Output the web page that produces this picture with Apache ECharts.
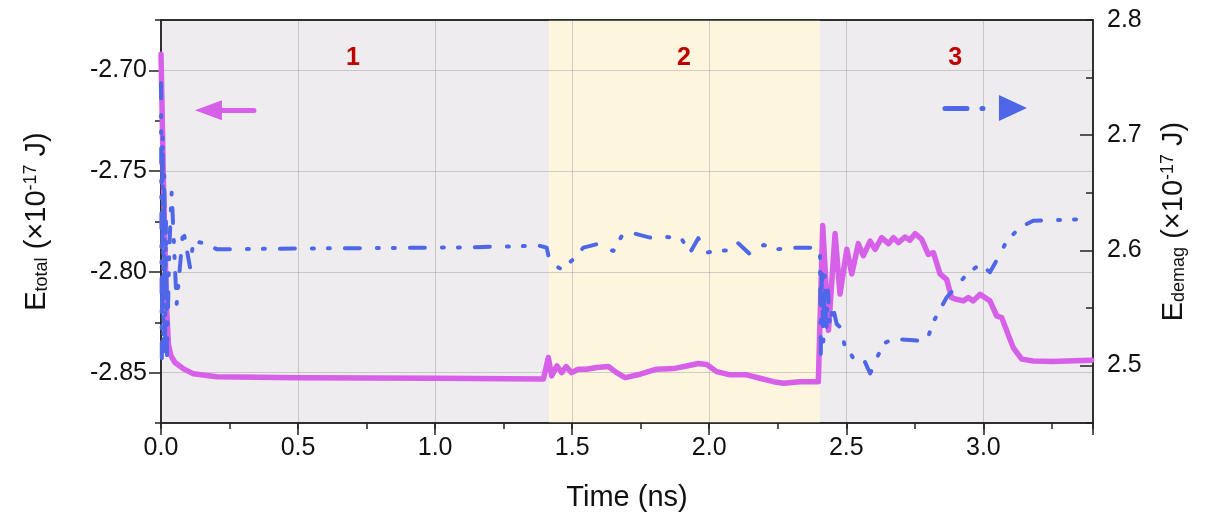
<!DOCTYPE html>
<html><head><meta charset="utf-8">
<script src="https://cdn.jsdelivr.net/npm/echarts@6/dist/echarts.min.js"></script>
<style>html,body{margin:0;padding:0;background:#fff}#c{width:1210px;height:522px}</style>
</head><body><div id="c"></div>
<script>
// E_total (left axis) — time in ns, value in 1e-17 J
const pinkT = [0, 0.004, 0.0085, 0.015, 0.021, 0.027, 0.036, 0.051, 0.081, 0.118, 0.203, 0.5, 1.0, 1.395,
  1.413, 1.425, 1.444, 1.462, 1.478, 1.498, 1.522, 1.553, 1.589, 1.632, 1.662, 1.693, 1.748, 1.808, 1.869,
  1.918, 1.960, 1.991, 2.027, 2.076, 2.137, 2.185, 2.234, 2.271, 2.331, 2.398,
  2.404, 2.414, 2.435, 2.459, 2.477, 2.502, 2.520, 2.544, 2.562, 2.587, 2.605, 2.629, 2.654, 2.672, 2.690,
  2.714, 2.732, 2.751, 2.775, 2.799, 2.818, 2.842, 2.866, 2.884, 2.902, 2.927, 2.945, 2.963, 2.988, 3.024,
  3.049, 3.067, 3.109, 3.140, 3.182, 3.255, 3.304, 3.395];
const pinkV = [-2.692, -2.720, -2.753, -2.790, -2.819, -2.836, -2.8415, -2.845, -2.848, -2.8506, -2.852, -2.8525, -2.8528, -2.8532,
  -2.8425, -2.8516, -2.8467, -2.850, -2.847, -2.850, -2.8483, -2.8483, -2.8475, -2.847, -2.850, -2.8525, -2.8508, -2.8483, -2.848,
  -2.8467, -2.8455, -2.846, -2.8495, -2.8511, -2.8511, -2.8528, -2.8545, -2.8553, -2.8545, -2.8545,
  -2.854, -2.777, -2.829, -2.781, -2.811, -2.7888, -2.801, -2.786, -2.792, -2.7847, -2.7888, -2.783, -2.786, -2.783, -2.7855,
  -2.7827, -2.7843, -2.781, -2.7838, -2.7913, -2.7905, -2.801, -2.8037, -2.8128, -2.8136, -2.8144, -2.8128, -2.8144, -2.8111, -2.8144,
  -2.8219, -2.8227, -2.8376, -2.8433, -2.8442, -2.8445, -2.8442, -2.8438];

// E_demag (right axis)
const blueT = [0, 0.003, 0.006, 0.009, 0.012, 0.015, 0.018, 0.022, 0.030, 0.039, 0.057, 0.081, 0.106, 0.118, 0.16, 0.203, 0.26,
  0.5, 0.8, 1.1, 1.3, 1.38, 1.407, 1.419, 1.462, 1.504, 1.541, 1.589, 1.650, 1.681, 1.723, 1.784, 1.845, 1.900, 1.930, 1.960,
  1.991, 2.027, 2.076, 2.106, 2.149, 2.198, 2.247, 2.307, 2.368, 2.398,
  2.404, 2.407, 2.411, 2.416, 2.421, 2.427, 2.433, 2.440, 2.450, 2.465, 2.483, 2.495, 2.514, 2.532, 2.556, 2.568, 2.587, 2.611,
  2.635, 2.672, 2.732, 2.793, 2.818, 2.866, 2.939, 2.988, 3.024, 3.061, 3.085, 3.134, 3.182, 3.255, 3.365];
const blueV = [2.745, 2.505, 2.700, 2.512, 2.665, 2.520, 2.625, 2.508, 2.600, 2.650, 2.553, 2.618, 2.585, 2.608, 2.606, 2.601, 2.601,
  2.6015, 2.602, 2.6025, 2.6035, 2.604, 2.6023, 2.5892, 2.5834, 2.5922, 2.6023, 2.6052, 2.5994, 2.6125, 2.6148, 2.611, 2.6116, 2.6096, 2.598, 2.6105,
  2.598, 2.5994, 2.600, 2.6061, 2.5965, 2.6046, 2.6009, 2.6023, 2.6023, 2.6023,
  2.600, 2.510, 2.585, 2.520, 2.578, 2.528, 2.565, 2.535, 2.552, 2.536, 2.532, 2.515, 2.511, 2.5035, 2.5035, 2.503, 2.493, 2.506,
  2.519, 2.523, 2.522, 2.521, 2.538, 2.559, 2.579, 2.588, 2.581, 2.5965, 2.608, 2.620, 2.6256, 2.6262, 2.627];

const xLabels = [0, 0.5, 1.0, 1.5, 2.0, 2.5, 3.0];
const leftLabels = [-2.85, -2.80, -2.75, -2.70];
const rightLabels = [2.5, 2.6, 2.7, 2.8];
const phaseNames = ['1', '2', '3'];
const phaseX = [0.70, 1.908, 2.897];
const phaseY = -2.6939;
const phase2Range = [1.415, 2.404];
const pinkArrow = [[0.339, -2.7198], [0.173, -2.7198]];
const blueArrow = [[2.860, 2.7235], [3.108, 2.7235]];

const PINK = '#D660E7', BLUE = '#4E66E8';
const FONT = 'Liberation Sans, Arial, sans-serif';
const inList = (arr, v) => arr.some(a => Math.abs(a - v) < 1e-6);
const zip = (a, b) => a.map((t, i) => [t, b[i]]);
const GRIDC = 'rgba(140,140,140,0.38)';
const AX = '#222';

const nameRich = {
  sub: { fontSize: 18, lineHeight: 18, verticalAlign: 'bottom', fontFamily: FONT, color: '#111' },
  sup: { fontSize: 18, lineHeight: 18, verticalAlign: 'top', fontFamily: FONT, color: '#111' }
};

const chart = echarts.init(document.getElementById('c'));
chart.setOption({
  animation: false,
  backgroundColor: '#fff',
  grid: { left: 161, right: 117, top: 20, bottom: 99, show: true, backgroundColor: '#EEECEE', borderColor: AX, borderWidth: 1.5 },
  xAxis: [
    { type: 'value', min: 0, max: 3.4, interval: 0.25, position: 'bottom', z: 3,
      axisLine: { show: true, onZero: false, lineStyle: { color: AX, width: 1.5 } },
      axisTick: { show: true, length: 6, lineStyle: { color: AX, width: 1.5 } },
      axisLabel: { fontSize: 25, color: '#111', fontFamily: FONT, margin: 13,
        formatter: v => inList(xLabels, v) ? v.toFixed(1) : '' },
      splitLine: { show: false },
      name: 'Time (ns)', nameLocation: 'middle', nameGap: 60,
      nameTextStyle: { fontSize: 29, color: '#111', fontFamily: FONT } },
    { type: 'value', min: 0, max: 3.4, interval: 0.5, position: 'bottom', z: 2,
      axisLine: { show: false, onZero: false },
      axisTick: { show: true, length: 12, lineStyle: { color: AX, width: 1.5 } },
      axisLabel: { show: false },
      splitLine: { show: true, lineStyle: { color: GRIDC, width: 1 } } },
    { type: 'value', min: 0, max: 3.4, position: 'top', z: 3,
      axisLine: { show: true, onZero: false, lineStyle: { color: AX, width: 1.5 } },
      axisTick: { show: false }, axisLabel: { show: false }, splitLine: { show: false } }
  ],
  yAxis: [
    { type: 'value', min: -2.875, max: -2.675, interval: 0.025, position: 'left', z: 3,
      axisLine: { show: true, onZero: false, lineStyle: { color: AX, width: 1.5 } },
      axisTick: { show: false },
      axisLabel: { fontSize: 25, color: '#111', fontFamily: FONT, margin: 14,
        formatter: v => inList(leftLabels, v) ? v.toFixed(2) : '' },
      splitLine: { show: false },
      name: 'E{sub|total} (×10{sup|-17} J)', nameLocation: 'middle', nameGap: 110,
      nameTextStyle: { fontSize: 29, color: '#111', fontFamily: FONT, rich: nameRich } },
    { type: 'value', min: -2.875, max: -2.675, interval: 0.05, position: 'left', z: 2,
      axisLine: { show: false, onZero: false },
      axisTick: { show: true, length: 6, lineStyle: { color: AX, width: 1.5 } },
      minorTick: { show: true, splitNumber: 2, length: 12, lineStyle: { color: AX, width: 1.5 } },
      minorSplitLine: { show: true, lineStyle: { color: GRIDC, width: 1 } },
      axisLabel: { show: false }, splitLine: { show: false } },
    { type: 'value', min: 2.45, max: 2.8, interval: 0.05, position: 'right', z: 3,
      axisLine: { show: true, onZero: false, lineStyle: { color: AX, width: 1.5 } },
      axisTick: { show: true, inside: true, length: 7, lineStyle: { color: AX, width: 1.5 } },
      axisLabel: { fontSize: 25, color: '#111', fontFamily: FONT, margin: 14,
        formatter: v => inList(rightLabels, v) ? v.toFixed(1) : '' },
      splitLine: { show: false },
      name: 'E{sub|demag} (×10{sup|-17} J)', nameLocation: 'middle', nameGap: 66,
      nameTextStyle: { fontSize: 29, color: '#111', fontFamily: FONT, rich: nameRich } },
    { type: 'value', min: 2.45, max: 2.8, interval: 0.05, position: 'right', z: 3,
      axisLine: { show: false, onZero: false },
      axisTick: { show: true, inside: true, length: 13, customValues: rightLabels.slice(0, 3), lineStyle: { color: AX, width: 1.5 } },
      axisLabel: { show: false }, splitLine: { show: false } }
  ],
  series: [
    { type: 'line', name: 'Etotal', xAxisIndex: 0, yAxisIndex: 0, z: 4,
      data: zip(pinkT, pinkV), showSymbol: false, symbol: 'none',
      lineStyle: { color: PINK, width: 5.5, join: 'round', cap: 'round' },
      markArea: { silent: true, z: 1, itemStyle: { color: '#FDF5DD' },
        data: [[{ xAxis: phase2Range[0] }, { xAxis: phase2Range[1] }]] },
      markPoint: { silent: true, symbol: 'circle', symbolSize: 1, itemStyle: { color: 'rgba(0,0,0,0)' },
        label: { show: true, position: 'inside', formatter: '{b}', color: '#C00000', fontSize: 25, fontWeight: 'bold', fontFamily: FONT },
        data: phaseNames.map((n, i) => ({ name: n, coord: [phaseX[i], phaseY] })) },
      markLine: { silent: true, animation: false, symbol: ['none', 'triangle'], symbolSize: [20, 27],
        label: { show: false },
        lineStyle: { color: PINK, width: 5, type: 'solid', cap: 'round' },
        data: [[{ coord: pinkArrow[0] }, { coord: pinkArrow[1] }]] } },
    { type: 'line', name: 'Edemag', xAxisIndex: 0, yAxisIndex: 2, z: 5,
      data: zip(blueT, blueV), showSymbol: false, symbol: 'none',
      lineStyle: { color: BLUE, width: 4, type: [15, 17, 2, 14, 2, 15], cap: 'round', join: 'round' },
      markLine: { silent: true, animation: false, symbol: ['none', 'triangle'], symbolSize: [26, 28],
        label: { show: false },
        lineStyle: { color: BLUE, width: 5, type: [22, 15, 1, 40], cap: 'round' },
        data: [[{ coord: blueArrow[0] }, { coord: blueArrow[1] }]] } }
  ]
});
</script>
</body></html>
